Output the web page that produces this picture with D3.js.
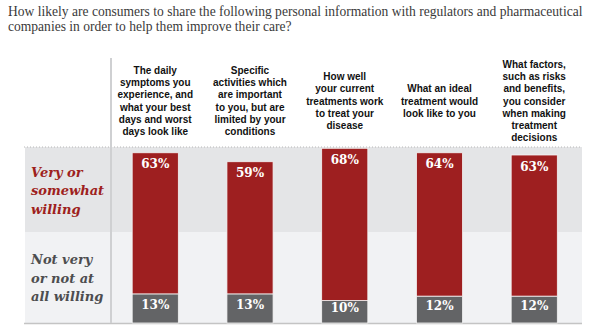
<!DOCTYPE html>
<html>
<head>
<meta charset="utf-8">
<script src="https://cdn.jsdelivr.net/npm/d3@7/dist/d3.min.js"></script>
<style>
  body { margin: 0; background: #fff; }
  .title { font-family: 'Liberation Serif', 'DejaVu Serif', serif; font-size: 13px; fill: #3a3a3a; }
  .col-head { font-family: 'Liberation Sans', Arial, sans-serif; font-size: 10px; font-weight: bold; fill: #111; }
  .row-label { font-family: 'DejaVu Serif', serif; font-size: 13px; font-weight: bold; font-style: italic; }
  .val { font-family: 'DejaVu Serif', serif; font-size: 12px; font-weight: bold; fill: #fff; }
</style>
</head>
<body>
<svg width="600" height="335"></svg>
<script>
const svg = d3.select('svg');

const titleLines = [
  'How likely are consumers to share the following personal information with regulators and pharmaceutical',
  'companies in order to help them improve their care?'
];

const categories = ['daily', 'activities', 'treatments', 'ideal', 'factors'];
const headers = [
  ['The daily', 'symptoms you', 'experience, and', 'what your best', 'days and worst', 'days look like'],
  ['Specific', 'activities which', 'are important', 'to you, but are', 'limited by your', 'conditions'],
  ['How well', 'your current', 'treatments work', 'to treat your', 'disease'],
  ['What an ideal', 'treatment would', 'look like to you'],
  ['What factors,', 'such as risks', 'and benefits,', 'you consider', 'when making', 'treatment', 'decisions']
];
const willing = [63, 59, 68, 64, 63];
const notWilling = [13, 13, 10, 12, 12];

const rowLabels = [
  ['Very or', 'somewhat', 'willing'],
  ['Not very', 'or not at', 'all willing']
];

const red = '#9e1f20';
const grey = '#636466';

// title - sized so the first line runs from x=8 to about x=583
const titleT = svg.selectAll('.title').data(titleLines)
  .enter().append('text')
    .attr('class', 'title')
    .attr('x', 8)
    .attr('y', (d, i) => 16 + i * 15)
    .text(d => d);
const w0 = titleT.node().getComputedTextLength();
titleT.style('font-size', (13 * 575 / w0) + 'px');

const xScale = d3.scaleBand()
  .domain(categories)
  .range([108.5, 581])
  .paddingInner(0.513)
  .paddingOuter(0.25);

const yScale = d3.scaleLinear()
  .domain([0, 100])
  .range([323, 99]);

// background bands
svg.append('rect')
  .attr('x', 25).attr('y', 147)
  .attr('width', 557).attr('height', 85)
  .attr('fill', '#e4e5e7');
svg.append('rect')
  .attr('x', 25).attr('y', 232)
  .attr('width', 557).attr('height', 91)
  .attr('fill', '#f1f2f4');

// dotted top rule, bottom rule, divider
svg.append('line')
  .attr('x1', 24).attr('x2', 582)
  .attr('y1', 147).attr('y2', 147)
  .attr('stroke', '#b8b8b8')
  .attr('stroke-dasharray', '1,2');
svg.append('line')
  .attr('x1', 24).attr('x2', 582)
  .attr('y1', 323.5).attr('y2', 323.5)
  .attr('stroke', '#c4c4c4')
  .attr('stroke-width', 1.5);
svg.append('line')
  .attr('x1', 111).attr('x2', 111)
  .attr('y1', 58).attr('y2', 323)
  .attr('stroke', '#cfd0d2')
  .attr('stroke-width', 2);

// column headers, centred vertically round y=101
const lineH = 12.2;
const headG = svg.selectAll('.col-head-g').data(categories)
  .enter().append('text')
    .attr('class', 'col-head')
    .attr('text-anchor', 'middle');
headG.each(function(c, i) {
  const lines = headers[i];
  const cx = xScale(c) + xScale.bandwidth() / 2;
  const y0 = 101 - (lines.length - 1) * lineH / 2 + 3.5;
  d3.select(this).selectAll('tspan').data(lines)
    .enter().append('tspan')
      .attr('x', cx)
      .attr('y', (d, j) => y0 + j * lineH)
      .text(d => d);
});

// row labels
const rowY = [171.5, 259];
const rowColor = [red, '#4d4d4f'];
rowLabels.forEach((lines, r) => {
  svg.append('text')
    .attr('class', 'row-label')
    .attr('fill', rowColor[r])
    .selectAll('tspan').data(lines)
    .enter().append('tspan')
      .attr('x', 31)
      .attr('y', (d, j) => rowY[r] + 5 + j * 18.5)
      .text(d => d);
});

// stacked bars
const table = categories.map((c, i) => ({cat: c, notWilling: notWilling[i], willing: willing[i]}));
const series = d3.stack().keys(['notWilling', 'willing'])(table);
const colors = {notWilling: grey, willing: red};

const layer = svg.selectAll('.layer').data(series)
  .enter().append('g')
    .attr('fill', d => colors[d.key]);

layer.selectAll('rect').data(d => d)
  .enter().append('rect')
    .attr('x', d => xScale(d.data.cat))
    .attr('y', d => yScale(d[1]))
    .attr('width', xScale.bandwidth())
    .attr('height', d => yScale(d[0]) - yScale(d[1]))
    .attr('stroke', '#f4f4f4')
    .attr('stroke-width', 0.8);

// value labels
layer.selectAll('text').data(d => d.map(p => ({p, key: d.key})))
  .enter().append('text')
    .attr('class', 'val')
    .attr('text-anchor', 'middle')
    .attr('x', d => xScale(d.p.data.cat) + xScale.bandwidth() / 2)
    .attr('y', d => d.key === 'willing'
      ? yScale(d.p[1]) + 15.5
      : (yScale(d.p[0]) + yScale(d.p[1])) / 2 + 0.5)
    .text(d => d.p.data[d.key] + '%');
</script>
</body>
</html>
